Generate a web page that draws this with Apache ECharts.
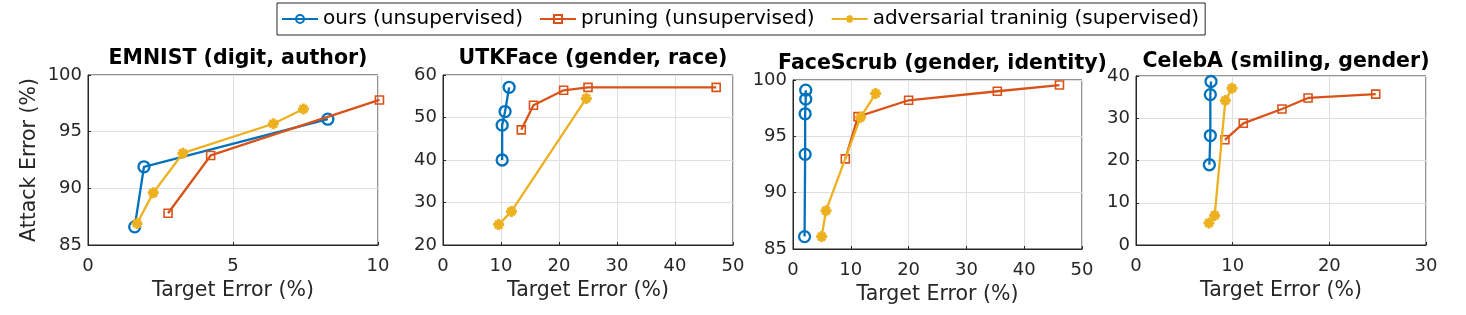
<!DOCTYPE html>
<html>
<head>
<meta charset="utf-8">
<script src="https://cdn.jsdelivr.net/npm/echarts@6/dist/echarts.min.js"></script>
<style>
html,body{margin:0;padding:0;background:#fff;}
#chart{width:1466px;height:315px;}
</style>
</head>
<body>
<div id="chart"></div>
<script>
// ---- Data ----
var seriesNames = ['ours (unsupervised)', 'pruning (unsupervised)', 'adversarial traninig (supervised)'];
var panelTitles = ['EMNIST (digit, author)', 'UTKFace (gender, race)', 'FaceScrub (gender, identity)', 'CelebA (smiling, gender)'];

// EMNIST
var emnistOursX = [1.61, 1.93, 8.27];
var emnistOursY = [86.6, 91.9, 96.1];
var emnistPruneX = [2.76, 4.23, 10.05];
var emnistPruneY = [87.8, 92.9, 97.8];
var emnistAdvX = [1.69, 2.25, 3.27, 6.39, 7.43];
var emnistAdvY = [86.9, 89.6, 93.1, 95.7, 97.0];

// UTKFace
var utkOursX = [10.2, 10.2, 10.7, 11.4];
var utkOursY = [40.0, 48.2, 51.4, 57.1];
var utkPruneX = [13.5, 15.6, 20.8, 25.0, 47.1];
var utkPruneY = [47.1, 52.9, 56.4, 57.1, 57.1];
var utkAdvX = [9.6, 11.8, 24.7];
var utkAdvY = [24.8, 27.9, 54.5];

// FaceScrub
var fsOursX = [2.0, 2.1, 2.1, 2.2, 2.2];
var fsOursY = [86.1, 93.4, 97.0, 98.3, 99.1];
var fsPruneX = [9.05, 11.25, 20.0, 35.35, 46.1];
var fsPruneY = [93.0, 96.75, 98.2, 99.0, 99.55];
var fsAdvX = [4.96, 5.71, 11.7, 14.3];
var fsAdvY = [86.1, 88.4, 96.7, 98.8];

// CelebA
var celOursX = [7.59, 7.69, 7.69, 7.76];
var celOursY = [19.0, 25.9, 35.6, 38.7];
var celPruneX = [9.2, 11.1, 15.1, 17.8, 24.8];
var celPruneY = [24.9, 28.8, 32.2, 34.8, 35.7];
var celAdvX = [7.55, 8.14, 9.24, 9.93];
var celAdvY = [5.2, 7.0, 34.2, 37.1];

// Axis ranges / ticks
var xMins = [0, 0, 0, 0];
var xMaxs = [10, 50, 50, 30];
var xSteps = [5, 10, 10, 10];
var yMins = [85, 20, 85, 0];
var yMaxs = [100, 60, 100, 40];
var ySteps = [5, 10, 5, 10];

var panels = [
  [[emnistOursX, emnistOursY], [emnistPruneX, emnistPruneY], [emnistAdvX, emnistAdvY]],
  [[utkOursX, utkOursY], [utkPruneX, utkPruneY], [utkAdvX, utkAdvY]],
  [[fsOursX, fsOursY], [fsPruneX, fsPruneY], [fsAdvX, fsAdvY]],
  [[celOursX, celOursY], [celPruneX, celPruneY], [celAdvX, celAdvY]]
];

// ---- Layout / style ----
var grids = [
  {left: 88, top: 75, width: 290, height: 170},
  {left: 443, top: 75, width: 290, height: 170},
  {left: 793, top: 80, width: 289, height: 169},
  {left: 1136, top: 76, width: 290, height: 169}
];
var titleTops = [43, 43, 48, 46];
var colors = ['#0072BD', '#D95319', '#EDB120'];
var FONT = 'DejaVu Sans';
var TXT = '#262626';
var asterisk = 'path://M5,0L5,10M0,5L10,5M1.6,1.6L8.4,8.4M1.6,8.4L8.4,1.6';
var symbols = ['circle', 'rect', asterisk];
var symbolSizes = [11, 8, 11];

function zip(xs, ys) { return xs.map(function (x, i) { return [x, ys[i]]; }); }

var option = {
  backgroundColor: '#fff',
  animation: false,
  textStyle: {fontFamily: FONT},
  legend: {
    top: 3, left: 277,
    data: seriesNames,
    borderColor: '#262626', borderWidth: 1,
    padding: [6, 6, 6, 4],
    itemGap: 16, itemWidth: 36, itemHeight: 10,
    textStyle: {fontSize: 20, color: '#000', fontFamily: FONT}
  },
  title: [],
  grid: [],
  xAxis: [],
  yAxis: [],
  series: []
};

grids.forEach(function (g, i) {
  option.grid.push({left: g.left, top: g.top, width: g.width, height: g.height,
    show: true, borderColor: '#262626', borderWidth: 1, backgroundColor: '#fff'});
  option.title.push({
    text: panelTitles[i], left: g.left + g.width / 2, top: titleTops[i], textAlign: 'center',
    textStyle: {fontSize: 20.5, fontWeight: 'bold', color: '#000', fontFamily: FONT}
  });
  option.xAxis.push({
    type: 'value', gridIndex: i, min: xMins[i], max: xMaxs[i], interval: xSteps[i],
    name: 'Target Error (%)', nameLocation: 'middle', nameGap: 34,
    nameTextStyle: {fontSize: 20.5, color: TXT, fontFamily: FONT},
    axisLine: {show: true, onZero: false, lineStyle: {color: '#262626', width: 1}},
    axisTick: {show: true, inside: true, length: 3, lineStyle: {color: '#262626'}},
    axisLabel: {fontSize: 18, color: TXT, margin: 12, fontFamily: FONT},
    splitLine: {show: true, lineStyle: {color: '#dfdfdf', width: 1}}
  });
  option.yAxis.push({
    type: 'value', gridIndex: i, min: yMins[i], max: yMaxs[i], interval: ySteps[i],
    name: i === 0 ? 'Attack Error (%)' : '', nameLocation: 'middle', nameGap: 48,
    nameTextStyle: {fontSize: 20.5, color: TXT, fontFamily: FONT},
    axisLine: {show: true, onZero: false, lineStyle: {color: '#262626', width: 1}},
    axisTick: {show: true, inside: true, length: 3, lineStyle: {color: '#262626'}},
    axisLabel: {fontSize: 18, color: TXT, margin: 6, fontFamily: FONT},
    splitLine: {show: true, lineStyle: {color: '#dfdfdf', width: 1}}
  });
  panels[i].forEach(function (s, k) {
    option.series.push({
      type: 'line', name: seriesNames[k], xAxisIndex: i, yAxisIndex: i,
      data: zip(s[0], s[1]),
      clip: false,
      symbol: symbols[k], symbolSize: symbolSizes[k], showSymbol: true,
      lineStyle: {color: colors[k], width: 2.3},
      itemStyle: {color: k === 2 ? colors[k] : 'rgba(255,255,255,0)', borderColor: colors[k], borderWidth: k === 1 ? 1.6 : (k === 0 ? 2.3 : 3)},
      emphasis: {disabled: true},
      z: 2 + k
    });
  });
});

var chart = echarts.init(document.getElementById('chart'), null, {renderer: 'canvas'});
chart.setOption(option);
</script>
</body>
</html>
